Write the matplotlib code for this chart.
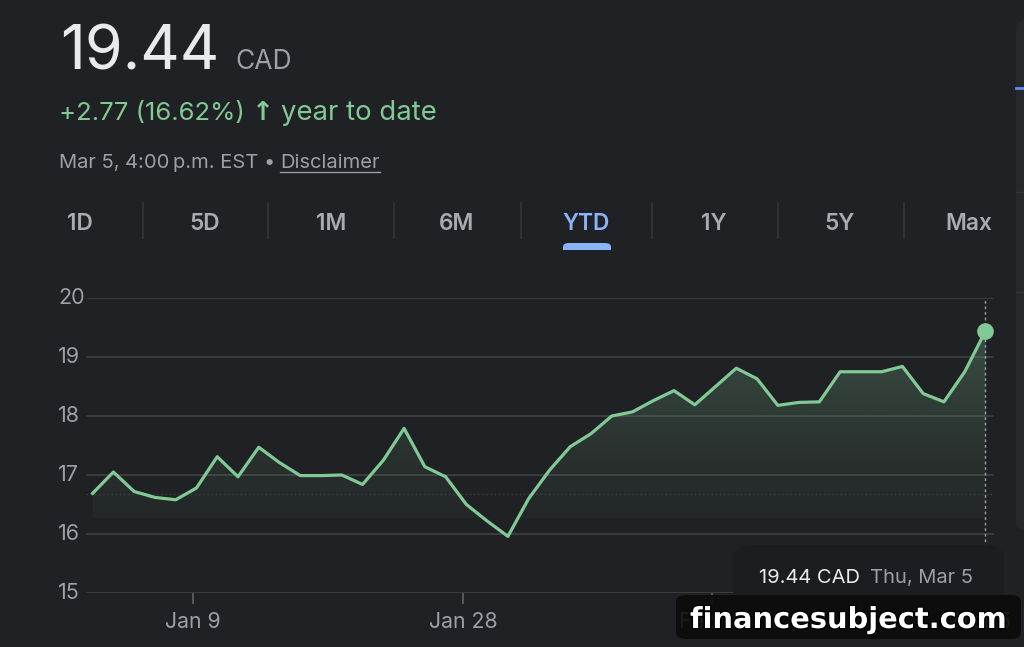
import numpy as np
import pandas as pd
import matplotlib
matplotlib.use('Agg')
import matplotlib.pyplot as plt
from matplotlib.patches import FancyBboxPatch, Rectangle
import matplotlib.patheffects as pe

plt.rcParams['font.family'] = ['Inter', 'DejaVu Sans']

# daily closes, YTD (TSX trading days Jan 2 -> Mar 5)
closes = [16.69, 17.05, 16.72, 16.62, 16.58, 16.78, 17.31, 16.97, 17.47, 17.21,
          16.99, 16.99, 17.00, 16.84, 17.25, 17.79, 17.14, 16.97, 16.50, 16.22,
          15.96, 16.60, 17.08, 17.48, 17.70, 18.00, 18.07, 18.26, 18.43, 18.19,
          18.50, 18.81, 18.63, 18.18, 18.23, 18.24, 18.75, 18.75, 18.75, 18.84,
          18.38, 18.24, 18.75, 19.44]
holidays = ['2026-01-01', '2026-02-16']
tick_dates = ['2026-01-09', '2026-01-28', '2026-02-13', '2026-03-05']
tick_labels = ['Jan 9', 'Jan 28', 'Feb 13', 'Mar 5']
y_ticks = [15, 16, 17, 18, 19, 20]
tabs = ['1D', '5D', '1M', '6M', 'YTD', '1Y', '5Y', 'Max']
prev_close = 16.67

days = pd.bdate_range('2026-01-01', '2026-03-05')
days = days[~days.isin(pd.to_datetime(holidays))]
x = np.arange(len(closes))

BG = '#202124'
GREEN = '#81c995'
GREY = '#9aa0a6'
BLUE = '#8ab4f8'
W, H = 1024, 647

fig = plt.figure(figsize=(W / 100, H / 100), dpi=100, facecolor=BG)


def fx(px):
    return px / W


def fy(py):
    return 1 - py / H


# header
fig.text(fx(60), fy(70), '19.44', color='#e8eaed', fontsize=44, va='baseline')
fig.text(fx(235), fy(69), 'CAD', color=GREY, fontsize=19, va='baseline')
fig.text(fx(59), fy(120), '+2.77 (16.62%)', color=GREEN, fontsize=18.5, va='baseline')
fig.text(fx(252), fy(120), '\u2191', color=GREEN, fontsize=19, va='baseline',
         family='DejaVu Sans', fontweight='bold')
fig.text(fx(281), fy(120), 'year to date', color=GREEN, fontsize=19.8, va='baseline')
fig.text(fx(59), fy(168), 'Mar 5, 4:00\u2009p.m. EST \u2022 ', color=GREY,
         fontsize=14.5, va='baseline')
d = fig.text(fx(280), fy(168), 'Disclaimer', color=GREY, fontsize=14.5, va='baseline')
fig.canvas.draw()
bb2 = d.get_window_extent()
fig.add_artist(plt.Line2D([bb2.x0 / W, bb2.x1 / W], [fy(171.5), fy(171.5)],
                          color=GREY, lw=1.0))

# range tabs
tab_x = [80, 205, 331, 457, 586, 714, 840, 969]
for lab, px in zip(tabs, tab_x):
    fig.text(fx(px), fy(230), lab, color=BLUE if lab == 'YTD' else '#a8abb0',
             fontsize=16.3, fontweight='semibold', ha='center', va='baseline')
for px in [143, 268, 394, 521, 652, 778, 904]:
    fig.add_artist(plt.Line2D([fx(px), fx(px)], [fy(203), fy(238)],
                              color='#35363a', lw=1.2))
fig.add_artist(FancyBboxPatch((fx(563), fy(254)), fx(611) - fx(563), fy(243) - fy(254),
                              boxstyle='round,pad=0,rounding_size=0.006',
                              transform=fig.transFigure, color=BLUE, lw=0))
fig.add_artist(Rectangle((fx(555), fy(258)), fx(620) - fx(555), fy(249.5) - fy(258),
                         transform=fig.transFigure, color=BG, lw=0))

# right-side panel edge
fig.add_artist(FancyBboxPatch((fx(1016), fy(530)), fx(60), fy(20) - fy(530),
                              boxstyle='round,pad=0,rounding_size=0.012',
                              transform=fig.transFigure, color='#27282b', lw=0))
fig.add_artist(plt.Line2D([fx(1016), 1], [fy(88), fy(88)], color='#5b8ef0', lw=2))
fig.add_artist(plt.Line2D([fx(1016), 1], [fy(192), fy(192)], color='#35363a', lw=1))
fig.add_artist(plt.Line2D([fx(1016), 1], [fy(292), fy(292)], color='#35363a', lw=1))

# chart
ax = fig.add_axes([fx(86), fy(593), fx(994) - fx(86), fy(298) - fy(593)])
ax.set_facecolor('none')
for s in ax.spines.values():
    s.set_visible(False)
ax.set_yticks(y_ticks)
ax.grid(axis='y', color='#3c4043', lw=1.3)
ax.tick_params(axis='y', length=0, labelleft=False)
for v in y_ticks:
    ax.text(-0.0305, v, str(v), transform=ax.get_yaxis_transform(),
            color=GREY, fontsize=15.5, ha='left', va='center')
ax.set_axisbelow(True)

tick_pos = [days.get_loc(pd.Timestamp(dd)) - 0.17 for dd in tick_dates]
ax.set_xticks(tick_pos)
ax.set_xticklabels(tick_labels, color=GREY, fontsize=15.3)
ax.tick_params(axis='x', length=8, width=1.2, color='#5f6368', pad=6)

# gradient fill under the line
base = 16.27
poly = ax.fill_between(x, closes, base, color='none', lw=0)
grad = np.linspace(0, 1, 256)
rgba = np.zeros((256, 1, 4))
rgba[:, 0, 0:3] = matplotlib.colors.to_rgb(GREEN)
rgba[:, 0, 3] = 0.04 + 0.24 * grad ** 1.3
img = ax.imshow(rgba, extent=[x[0], x[-1], base, max(closes)], origin='lower',
                aspect='auto', zorder=1)
img.set_clip_path(poly.get_paths()[0], transform=ax.transData)
ax.set_xlim(-0.32, 43.41)
ax.set_ylim(15, 20)
ax.axhline(prev_close, color='#3d423f', lw=1, ls=(0, (1, 2)), zorder=1.5)

ax.plot(x, closes, color=GREEN, lw=2.3, solid_joinstyle='round', zorder=3)
ax.plot(x[-1], closes[-1], 'o', color=GREEN, ms=11, zorder=4)
ax.plot([x[-1], x[-1]], [closes[-1], 20], color=GREY, lw=1, ls=(0, (2, 2)), zorder=2)
ax.plot([x[-1], x[-1]], [15.3, closes[-1]], color=GREY, lw=1, ls=(0, (2, 2)), zorder=2)

# tooltip
fig.add_artist(FancyBboxPatch((fx(733), fy(605)), fx(1004) - fx(733), fy(545) - fy(605),
                              boxstyle='round,pad=0,rounding_size=0.02',
                              transform=fig.transFigure, color='#1c1d20', lw=0, zorder=5))
fig.text(fx(759), fy(583), '19.44 CAD', color='#e8eaed', fontsize=14.5,
         va='baseline', zorder=6)
fig.text(fx(870), fy(583), 'Thu, Mar 5', color=GREY, fontsize=14.5, va='baseline', zorder=6)

# watermark
fig.add_artist(FancyBboxPatch((fx(676), fy(639)), fx(1021) - fx(676), fy(595) - fy(639),
                              boxstyle='round,pad=0,rounding_size=0.01',
                              transform=fig.transFigure, color='#0b0b0b', alpha=0.88,
                              lw=0, zorder=7))
fig.text(fx(848), fy(628), 'financesubject.com', color='white', fontsize=20.8,
         family='DejaVu Sans', fontweight='bold', ha='center', va='baseline', zorder=8,
         path_effects=[pe.withStroke(linewidth=2, foreground='black')])

fig.savefig('out.png', dpi=100, facecolor=BG)
